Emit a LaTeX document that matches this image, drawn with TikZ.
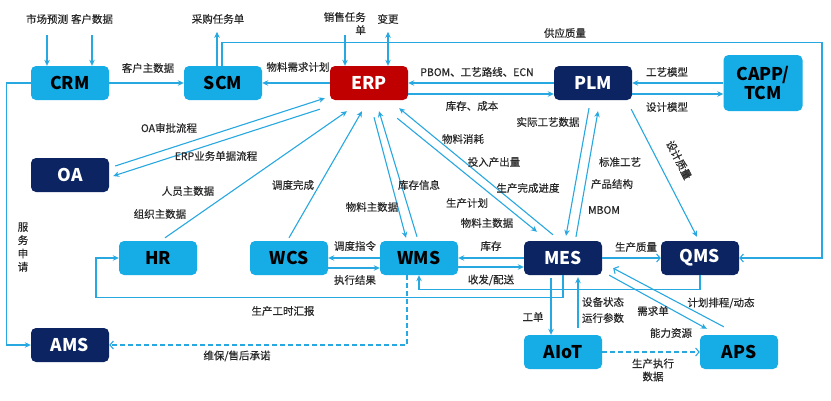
\documentclass[tikz,border=0pt]{standalone}
\usepackage{fontspec}
\setmainfont{Noto Sans CJK SC}
\newfontfamily\labfont[FakeBold=0.35]{Noto Sans CJK SC}
\usetikzlibrary{arrows.meta,calc}
\definecolor{lb}{RGB}{22,172,229}
\definecolor{nv}{RGB}{12,37,98}
\definecolor{er}{RGB}{192,0,0}
\definecolor{ln}{RGB}{40,168,224}
\definecolor{tx}{RGB}{40,40,40}
\begin{document}
\begin{tikzpicture}[x=1pt,y=-1pt,
  box/.style={rounded corners=5pt, minimum width=78pt, minimum height=34pt, inner sep=0pt, font=\fontsize{17.5}{19}\selectfont\bfseries},
  lbox/.style={box, fill=lb, text=black},
  nbox/.style={box, fill=nv, text=white},
  rbox/.style={box, fill=er, text=white},
  lab/.style={font=\labfont\fontsize{10.5}{13}\selectfont, text=tx, inner sep=0pt},
  arr/.style={draw=ln, line width=1.1pt, -{Stealth[length=6pt,width=5.5pt]}},
  arro/.style={draw=ln, line width=1.1pt, -{Straight Barb[length=3.5pt,width=8pt]}},
  darr/.style={draw=ln, line width=1.1pt, {Stealth[length=6pt,width=5.5pt]}-{Stealth[length=6pt,width=5.5pt]}}
]
\useasboundingbox (0,0) rectangle (831,400);
\fill[white] (0,0) rectangle (831,400);
% boxes
\node[lbox] (crm) at (70,83) {CRM};
\node[lbox] (scm) at (223,83) {SCM};
\node[rbox] (erp) at (369,83) {ERP};
\node[nbox] (plm) at (593,83) {PLM};
\node[lbox, minimum width=79pt, minimum height=56pt, align=center, font=\fontsize{17.5}{19}\selectfont\bfseries] (capp) at (763,83) {CAPP/\\TCM};
\node[nbox] (oa) at (70,175) {OA};
\node[lbox] (hr) at (158,258) {HR};
\node[lbox] (wcs) at (289,258) {WCS};
\node[lbox] (wms) at (419,258) {WMS};
\node[nbox] (mes) at (563,258) {MES};
\node[nbox] (qms) at (700,258) {QMS};
\node[nbox] (ams) at (70,345) {AMS};
\node[lbox] (aiot) at (563,352) {AIoT};
\node[lbox] (aps) at (739,352) {APS};
% top inputs
\node[lab] (mkt) at (47,19) {市场预测};
\node[lab] (cust) at (92,19) {客户数据};
\draw[arr] (mkt) ++(0,16) -- (crm.north -| mkt);
\draw[arr] (cust) ++(0,16) -- (crm.north -| cust);
\node[lab] (purch) at (218,19) {采购任务单};
\draw[arr] ([xshift=-6pt]scm.north) -- ++(0,-34);
\node[lab, anchor=north east, align=right] (sales) at (366,12) {销售任务\\单};
\draw[arr] ([shift={(-24pt,31pt)}]erp.north) -- ([xshift=-24pt]erp.north);
\node[lab] (chg) at (388,19) {变更};
\draw[darr] ([shift={(19pt,34pt)}]erp.north) -- ([xshift=19pt]erp.north);
% supply quality
\draw[arro] ([xshift=-1pt]scm.north) -- ++(0,-23) -- ++(600,0) |- (qms.east);
\node[lab] (supq) at (565,33) {供应质量};
% top row
\draw[arr] (crm.east) -- (scm.west);
\node[lab] (l1) at (148,68) {客户主数据};
\draw[arr] (erp.west) -- (scm.east);
\node[lab] (l2) at (298,67) {物料需求计划};
\draw[arr] (plm.west) -- (erp.east);
\node[lab] (l3) at (477,72) {PBOM、工艺路线、ECN};
\draw[arr] ([yshift=-11pt]erp.east) -- ([yshift=-11pt]plm.west);
\node[lab] (l4) at (472,106) {库存、成本};
\draw[arr] (capp.west) -- (plm.east);
\node[lab] (l5) at (667,72) {工艺模型};
\draw[arr] ([yshift=-11pt]plm.east) -- ([yshift=-11pt]capp.west);
\node[lab] (l6) at (667,107) {设计模型};
% OA
\draw[arr] ([shift={(6pt,9pt)}]oa.east) -- ([shift={(-5pt,2pt)}]erp.south west);
\draw[arr] ([shift={(-10pt,-9pt)}]erp.south west) -- ([shift={(4pt,-1pt)}]oa.east);
\node[lab] (l7) at (169,128) {OA审批流程};
\node[lab] (l8) at (216,156) {ERP业务单据流程};
% HR, WCS to ERP
\draw[arr] ([shift={(7pt,3pt)}]hr.north) -- ([shift={(-22pt,-11pt)}]erp.south);
\node[lab] (l9) at (188,191) {人员主数据};
\node[lab] (l10) at (160,214) {组织主数据};
\draw[arr] ([shift={(0pt,3pt)}]wcs.north) -- ([shift={(-7pt,-11pt)}]erp.south);
\node[lab] (l11) at (293,185) {调度完成};
% ERP <-> WMS
\draw[arr] ([shift={(5pt,-17pt)}]erp.south) -- ([shift={(-13pt,3pt)}]wms.north);
\draw[arr] ([shift={(-2pt,4pt)}]wms.north) -- ([shift={(10pt,-11pt)}]erp.south);
\node[lab] (l12) at (372,207) {物料主数据};
\node[lab] (l13) at (419,185) {库存信息};
% ERP <-> MES
\draw[arr] ([shift={(-10pt,6pt)}]mes.north) -- ([shift={(-9pt,-8pt)}]erp.south east);
\draw[arr] ([shift={(-11pt,-18pt)}]erp.south east) -- ([shift={(-26pt,9pt)}]mes.north);
\node[lab] (l14) at (463,139) {物料消耗};
\node[lab] (l15) at (494,162) {投入产出量};
\node[lab] (l16) at (528,188) {生产完成进度};
\node[lab] (l17) at (467,203) {生产计划};
\node[lab] (l18) at (487,223) {物料主数据};
% PLM <-> MES
\draw[arr] ([shift={(13pt,4pt)}]mes.north) -- ([shift={(5pt,-11pt)}]plm.south);
\draw[arr] ([shift={(-4pt,-8pt)}]plm.south) -- ([shift={(3pt,5pt)}]mes.north);
\node[lab] (l19) at (548,122) {实际工艺数据};
\node[lab] (l20) at (620,162) {标准工艺};
\node[lab] (l21) at (612,184) {产品结构};
\node[lab] (l22) at (604,210) {MBOM};
% PLM -> QMS
\draw[arr] ([shift={(-1pt,-9pt)}]plm.south east) -- ([shift={(-3pt,4pt)}]qms.north);
\node[lab, rotate=-63] (l23) at (679,160) {设计质量};
% middle row
\draw[arro] (mes.east) -- (qms.west);
\node[lab] (l24) at (636,247) {生产质量};
\draw[arr] (mes.west) -- (wms.east);
\node[lab] (l25) at (491,246) {库存};
\draw[arr] ([yshift=-9pt]wms.east) -- ([yshift=-9pt]mes.west);
\node[lab] (l26) at (491,280) {收发/配送};
\draw[arr] (wms.west) -- (wcs.east);
\node[lab] (l27) at (355,246) {调度指令};
\draw[arr] ([yshift=-10pt]wcs.east) -- ([yshift=-10pt]wms.west);
\node[lab] (l28) at (355,280) {执行结果};
% QMS -> WMS
\draw[arr] (qms.south) -- ++(0,14) -| (wms.south);
% MES -> HR
\draw[arr] (mes.south) -- ++(0,22) -- ++(-467,0) |- (hr.west);
\node[lab] (l29) at (283,311) {生产工时汇报};
% WMS -> AMS dashed
\draw[arro, dashed, dash pattern=on 5pt off 3pt] ([xshift=-12pt]wms.south) |- (ams.east);
\node[lab] (l30) at (237,356) {维保/售后承诺};
% CRM -> AMS
\draw[arr] (crm.west) -- ++(-24,0) |- (ams.west);
\node[lab, align=center, font=\labfont\fontsize{10.5}{13.3}\selectfont] (l31) at (23,247) {服\\务\\申\\请};
% MES <-> AIoT
\draw[arr] ([shift={(-12pt,-3pt)}]mes.south) -- ([xshift=-12pt]aiot.north);
\node[lab] (l32) at (533,317) {工单};
\draw[arr] ([shift={(15pt,7pt)}]aiot.north) -- ([shift={(15pt,-2pt)}]mes.south);
\node[lab] (l33) at (603,302) {设备状态};
\node[lab] (l34) at (603,318) {运行参数};
% MES <-> APS
\draw[arr] ([shift={(7pt,0pt)}]mes.south east) -- ([shift={(7pt,6pt)}]aps.north west);
\draw[arro] ([shift={(24pt,8pt)}]aps.north west) -- ([shift={(11pt,7pt)}]mes.south east);
\node[lab] (l35) at (653,311) {需求单};
\node[lab] (l36) at (671,333) {能力资源};
\node[lab] (l37) at (721,303) {计划排程/动态};
% AIoT -> APS dashed
\draw[arro, dashed, dash pattern=on 5pt off 3pt] (aiot.east) -- (aps.west);
\node[lab, align=center] (l38) at (653,370) {生产执行\\数据};
\end{tikzpicture}
\end{document}
